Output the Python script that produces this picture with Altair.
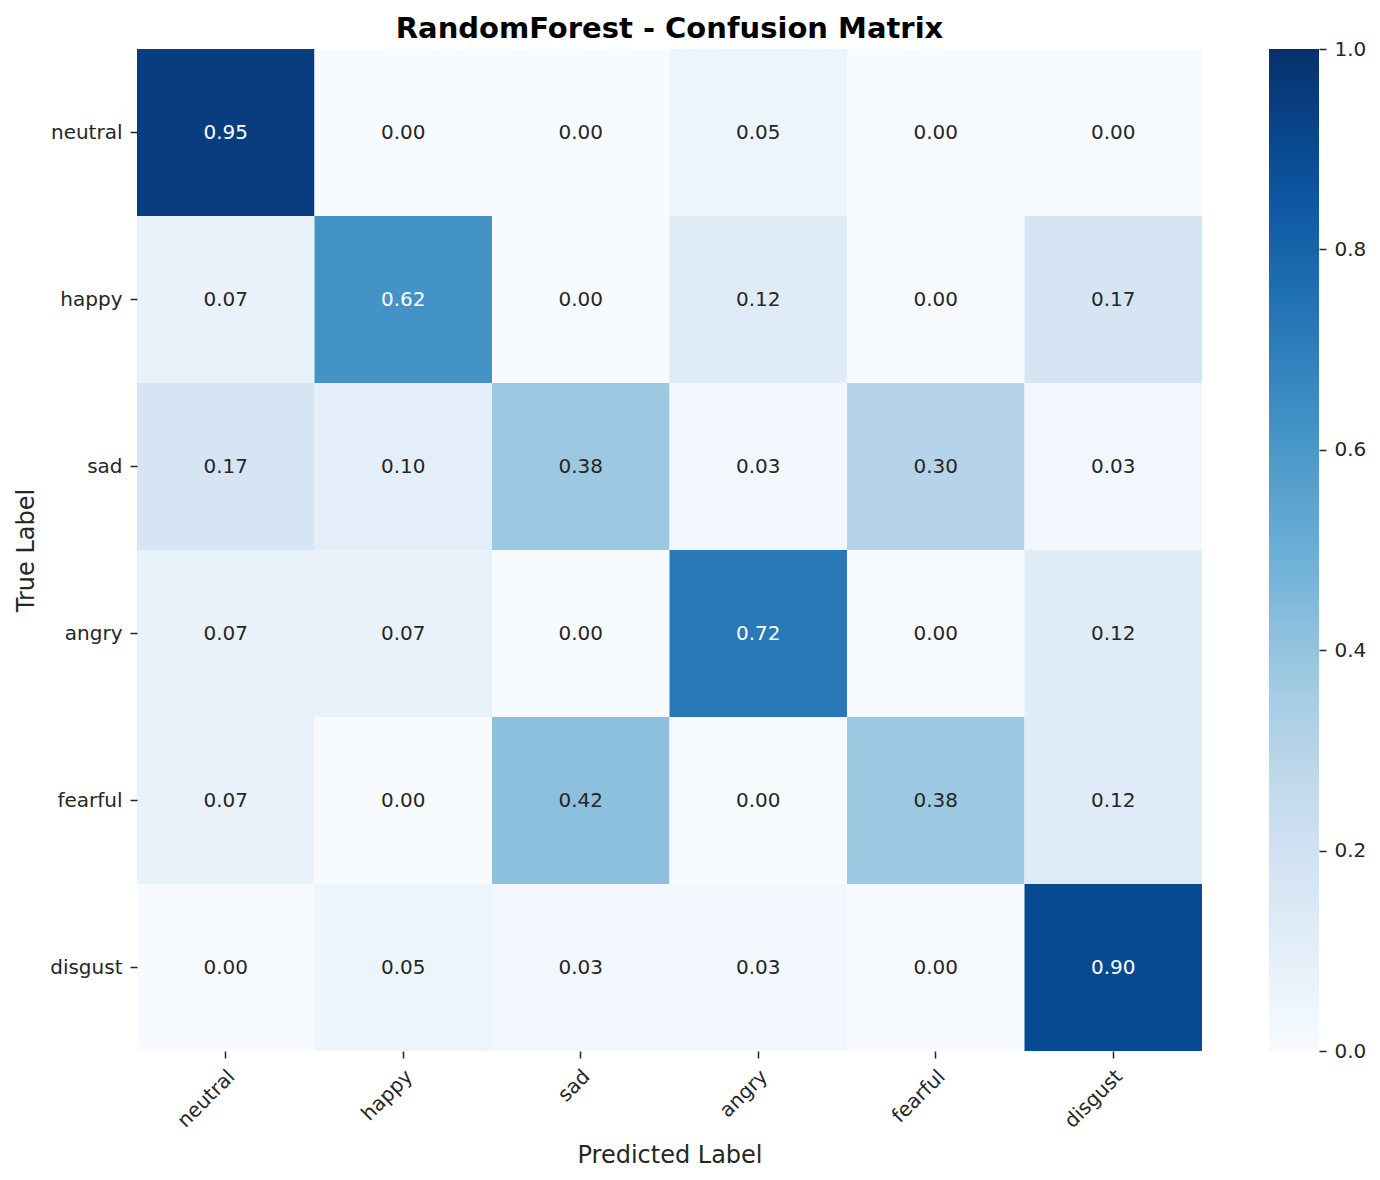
import altair as alt
import pandas as pd

labels = ["neutral", "happy", "sad", "angry", "fearful", "disgust"]

# rows = true label, columns = predicted label (row-normalised)
matrix = [
    [0.95, 0.00, 0.00, 0.05, 0.00, 0.00],
    [0.07, 0.62, 0.00, 0.12, 0.00, 0.17],
    [0.17, 0.10, 0.38, 0.03, 0.30, 0.03],
    [0.07, 0.07, 0.00, 0.72, 0.00, 0.12],
    [0.07, 0.00, 0.42, 0.00, 0.38, 0.12],
    [0.00, 0.05, 0.03, 0.03, 0.00, 0.90],
]

# colour-bar tick values
cbar_ticks = [0.0, 0.2, 0.4, 0.6, 0.8, 1.0]

blues = ["#f7fbff", "#deebf7", "#c6dbef", "#9ecae1", "#6baed6",
         "#4292c6", "#2171b5", "#08519c", "#08306b"]
stops = [i / 8 for i in range(9)]

rows = []
for i, t in enumerate(labels):
    for j, p in enumerate(labels):
        rows.append({"true": t, "pred": p, "value": matrix[i][j]})
df = pd.DataFrame(rows)
ticks_df = pd.DataFrame({"tick": cbar_ticks})

FONT = "DejaVu Sans"
INK = "#262626"
W, H = 1065, 1002
CBAR_GAP, CBAR_W = 67, 50

x = alt.X("pred:N", sort=labels, title="Predicted Label",
          axis=alt.Axis(labelAngle=-45, labelAlign="right", labelBaseline="top",
                        labelFontSize=20, titleFontSize=24, titleFontWeight="normal",
                        labelColor=INK, titleColor=INK, domain=False,
                        tickColor=INK, tickSize=7, tickWidth=1.5, labelPadding=8,
                        labelOffset=-1, titleBaseline="alphabetic", titleY=111))
y = alt.Y("true:N", sort=labels, title="True Label",
          axis=alt.Axis(labelFontSize=20, titleFontSize=24, titleFontWeight="normal",
                        labelColor=INK, titleColor=INK, domain=False,
                        tickColor=INK, tickSize=7, tickWidth=1.5, labelPadding=8,
                        titleBaseline="alphabetic", titleX=-104))

base = alt.Chart(df)

cells = base.mark_rect().encode(
    x=x, y=y,
    color=alt.Color("value:Q",
                    scale=alt.Scale(domain=stops, range=blues, interpolate="rgb"),
                    legend=alt.Legend(title=None, type="gradient", direction="vertical",
                                      orient="none", legendX=W + CBAR_GAP, legendY=0,
                                      gradientLength=H, gradientThickness=CBAR_W,
                                      labelExpr="''", labelOpacity=0, padding=0,
                                      gradientStrokeWidth=0)),
)

text = base.mark_text(fontSize=20, font=FONT).encode(
    x=alt.X("pred:N", sort=labels),
    y=alt.Y("true:N", sort=labels),
    text=alt.Text("value:Q", format=".2f"),
    color=alt.condition(alt.datum.value > 0.5, alt.value("white"), alt.value(INK)),
)

heatmap = alt.layer(cells, text)

# tick axis of the colour bar, placed along the bar's right edge
cbar_axis = alt.Chart(ticks_df).mark_point(opacity=0).encode(
    x=alt.value(W),
    y=alt.Y("tick:Q", scale=alt.Scale(domain=[0, 1]), title=None,
            axis=alt.Axis(orient="right", offset=CBAR_GAP + CBAR_W, values=cbar_ticks,
                          format=".1f", domain=False, grid=False, tickColor=INK,
                          tickSize=7, tickWidth=1.5, labelFontSize=20, labelColor=INK,
                          labelPadding=8, labelFlush=False, labelOverlap=False)),
)

chart = alt.layer(heatmap, cbar_axis).resolve_scale(y="independent").properties(
    width=W, height=H,
    title=alt.TitleParams("RandomForest - Confusion Matrix", fontSize=29,
                          fontWeight="bold", font=FONT, color="black", offset=7, dy=12),
    autosize=alt.AutoSizeParams(type="none"),
    padding={"left": 137, "top": 49, "right": 178, "bottom": 129},
).configure(font=FONT).configure_view(stroke=None).configure_scale(
    bandPaddingInner=0, bandPaddingOuter=0
)

chart.save("out.html", embed_options={"renderer": "svg", "actions": False})
